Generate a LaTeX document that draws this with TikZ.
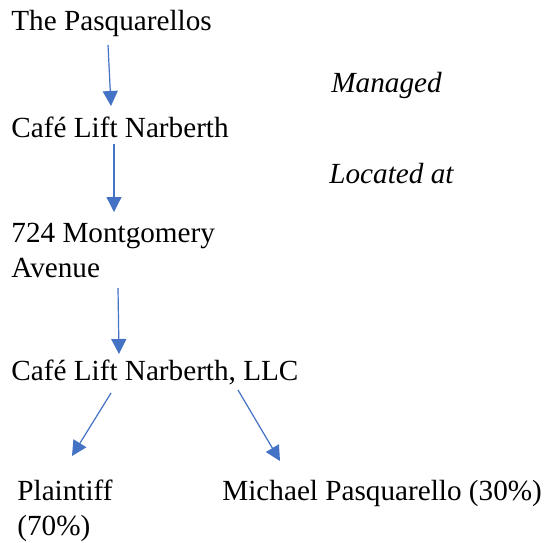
\documentclass[tikz,border=0pt]{standalone}
\usepackage{fontspec}
\setmainfont{Liberation Serif}
\usepackage{xcolor}
\usetikzlibrary{arrows.meta}
\definecolor{linkblue}{HTML}{4472C4}
\tikzset{
  lbl/.style={inner sep=0pt, anchor=base west, align=left,
    font=\fontsize{14.6}{17.5}\selectfont},
  rel/.style={lbl, font=\fontsize{14.6}{17.5}\selectfont\itshape},
  link/.style={draw=linkblue, fill=linkblue, line width=0.6pt,
    -{Triangle[width=7.5pt,length=7.5pt]}}
}
\begin{document}
\begin{tikzpicture}[x=0.5pt, y=-0.5pt]
      \useasboundingbox (0,0) rectangle (544,542);
      \node[lbl] (pasq) at (11,30) {The Pasquarellos};
      \node[lbl] (cafe) at (11,137) {Café Lift Narberth};
      \node[lbl] (addr) at (11,277) {724 Montgomery\\Avenue};
      \node[lbl] (llc) at (11,380) {Café Lift Narberth, LLC};
      \node[lbl] (plf) at (17,535) {Plaintiff\\(70\%)};
      \node[lbl] (mike) at (222,500) {Michael Pasquarello (30\%)};
      \node[rel] (managed) at (331,92) {Managed};
      \node[rel] (located) at (329,183) {Located at};

      \draw[link] ([shift={(97,15)}]pasq.base west) -- ([shift={(100,-31)}]cafe.base west);
      \draw[link] ([shift={(103,7)}]cafe.base west) -- ([shift={(103,-65)}]addr.base west);
      \draw[link] ([shift={(107,11)}]addr.base west) -- ([shift={(108,-26)}]llc.base west);
      \draw[link] ([shift={(100,13)}]llc.base west) -- ([shift={(55,-79)}]plf.base west);
      \draw[link] ([shift={(227,10)}]llc.base west) -- ([shift={(58,-39)}]mike.base west);
    \end{tikzpicture}
\end{document}
